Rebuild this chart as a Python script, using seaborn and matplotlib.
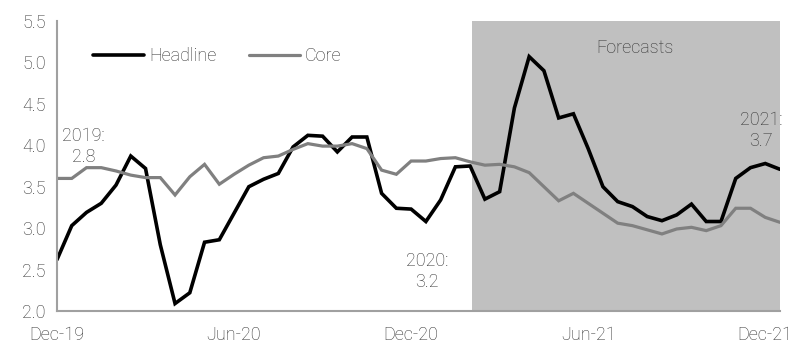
import matplotlib
matplotlib.use("Agg")
import matplotlib.pyplot as plt
import seaborn as sns
import pandas as pd
import numpy as np

# Semi-monthly CPI inflation (% y/y), Dec-19 to Dec-21
headline = [2.62, 3.03, 3.19, 3.30, 3.52, 3.87, 3.72, 2.80, 2.09, 2.22,
            2.83, 2.86, 3.18, 3.50, 3.59, 3.66, 3.98, 4.12, 4.11, 3.92,
            4.10, 4.10, 3.42, 3.24, 3.23, 3.08, 3.34, 3.74, 3.75, 3.35,
            3.44, 4.45, 5.07, 4.90, 4.33, 4.38, 3.96, 3.50, 3.32, 3.26,
            3.14, 3.09, 3.16, 3.29, 3.08, 3.08, 3.60, 3.73, 3.78, 3.71]
core = [3.60, 3.60, 3.73, 3.73, 3.69, 3.64, 3.61, 3.61, 3.40, 3.62,
        3.77, 3.53, 3.65, 3.76, 3.85, 3.87, 3.95, 4.02, 3.99, 3.99,
        4.02, 3.96, 3.70, 3.65, 3.81, 3.81, 3.84, 3.85, 3.80, 3.76,
        3.77, 3.74, 3.67, 3.50, 3.33, 3.42, 3.30, 3.18, 3.06, 3.03,
        2.98, 2.93, 2.99, 3.01, 2.97, 3.03, 3.24, 3.24, 3.13, 3.07]
tick_labels = ["Dec-19", "Jun-20", "Dec-20", "Jun-21", "Dec-21"]
tick_periods = [0, 12, 24, 36, 48]
forecast_start = 28.1

annual_labels = ["2019:\n2.8", "2020:\n3.2", "2021:\n3.7"]
annual_pos = [(1.8, 3.99), (25.1, 2.48), (47.7, 4.18)]

period = np.arange(len(headline))
df = pd.DataFrame({"period": np.concatenate([period, period]),
                   "value": headline + core,
                   "series": ["Headline"] * len(headline) + ["Core"] * len(core)})

sns.set_style("white")
plt.rcParams["font.family"] = ["Roboto", "DejaVu Sans"]
plt.rcParams["font.weight"] = "light"
text_color = "#303030"
axis_color = "#a0a0a0"
fs = 13

fig = plt.figure(figsize=(7.92, 3.46), dpi=100)
ax = fig.add_axes([57 / 792, 1 - 311 / 346, (780 - 57) / 792, (311 - 21) / 346])

ax.axvspan(forecast_start, len(headline) - 1, color="#c0c0c0", lw=0, zorder=0)

sns.lineplot(data=df, x="period", y="value", hue="series",
             palette={"Headline": "black", "Core": "#808080"},
             hue_order=["Headline", "Core"], linewidth=2.6, ax=ax, zorder=3)
for line, lw in zip(ax.lines, [2.6, 2.3]):
    line.set_linewidth(lw)
    line.set_solid_joinstyle("miter")

ax.set_xlim(0, len(headline) - 1)
ax.set_ylim(2.0, 5.5)
ax.set_yticks(np.arange(2.0, 5.51, 0.5))
ax.set_yticklabels([f"{v:.1f}" for v in np.arange(2.0, 5.51, 0.5)])
ax.set_xticks(tick_periods)
ax.set_xticklabels(tick_labels)
ax.set_xlabel("")
ax.set_ylabel("")

for s in ["top", "right"]:
    ax.spines[s].set_visible(False)
for s in ["left", "bottom"]:
    ax.spines[s].set_color(axis_color)
    ax.spines[s].set_linewidth(1.5)
    ax.spines[s].set_zorder(4)
ax.tick_params(axis="both", direction="out", length=5, width=1.2,
               color=axis_color, labelcolor=text_color, labelsize=fs)
ax.tick_params(axis="x", pad=6)
ax.tick_params(axis="y", pad=3)

leg = ax.legend(loc="upper left", bbox_to_anchor=(0.028, 0.965), ncol=2,
                frameon=False, fontsize=fs, handlelength=2.8,
                handletextpad=0.3, columnspacing=1.8)
for t in leg.get_texts():
    t.set_color(text_color)
for h, lw in zip(leg.legend_handles, [2.6, 2.3]):
    h.set_linewidth(lw)

ax.text(39.2, 5.17, "Forecasts", ha="center", va="center",
        fontsize=fs, color=text_color)

for lab, (x, y) in zip(annual_labels, annual_pos):
    ax.text(x, y, lab, ha="center", va="center", fontsize=fs,
            color=text_color, linespacing=1.2)

fig.savefig("out.png", dpi=100)
